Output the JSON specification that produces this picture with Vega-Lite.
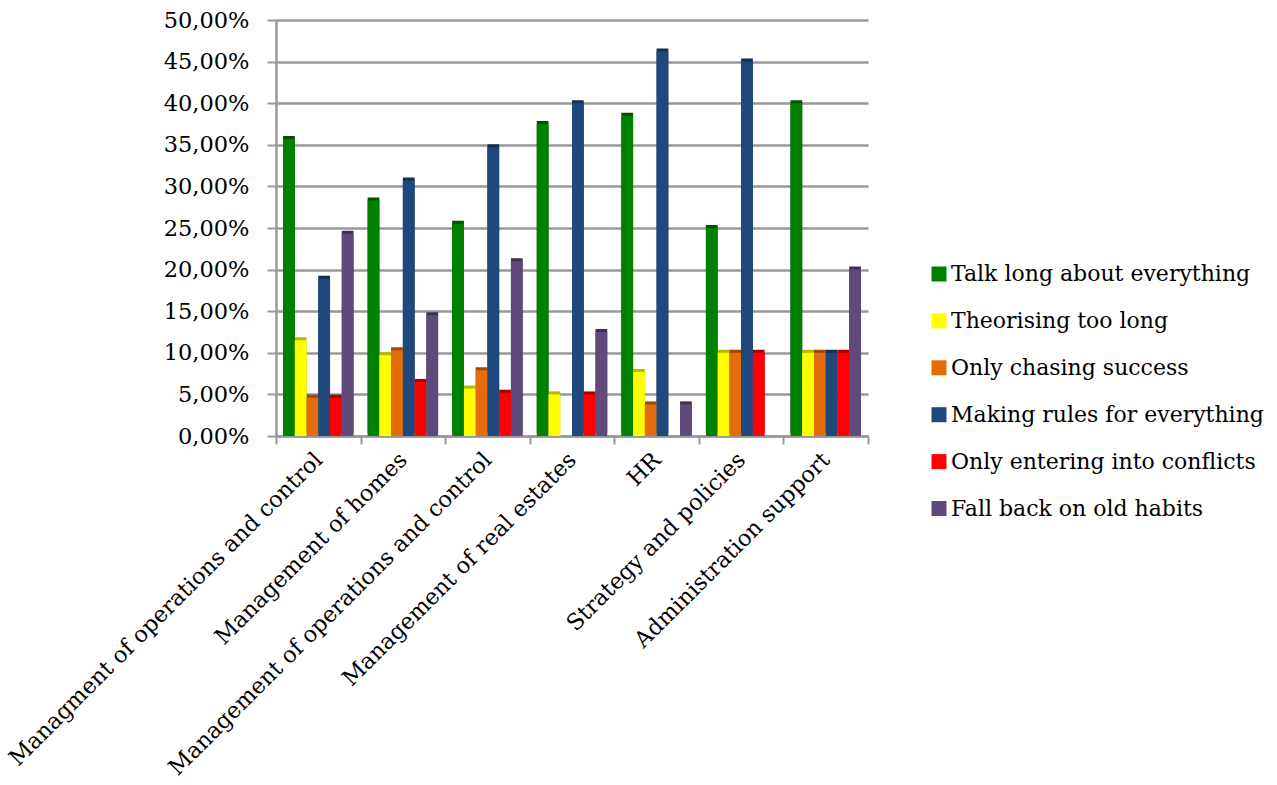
{
  "$schema": "https://vega.github.io/schema/vega-lite/v6.json",
  "width": 592,
  "height": 416,
  "autosize": {"type": "none"},
  "padding": {"left": 276, "top": 20, "right": 409, "bottom": 349},
  "background": "white",
  "data": {
    "values": [
      {"unit": "Managment of operations and control", "reaction": "Talk long about everything", "share": 0.357},
      {"unit": "Managment of operations and control", "reaction": "Theorising too long", "share": 0.115},
      {"unit": "Managment of operations and control", "reaction": "Only chasing success", "share": 0.046},
      {"unit": "Managment of operations and control", "reaction": "Making rules for everything", "share": 0.189},
      {"unit": "Managment of operations and control", "reaction": "Only entering into conflicts", "share": 0.046},
      {"unit": "Managment of operations and control", "reaction": "Fall back on old habits", "share": 0.243},
      {"unit": "Management of homes", "reaction": "Talk long about everything", "share": 0.283},
      {"unit": "Management of homes", "reaction": "Theorising too long", "share": 0.097},
      {"unit": "Management of homes", "reaction": "Only chasing success", "share": 0.103},
      {"unit": "Management of homes", "reaction": "Making rules for everything", "share": 0.307},
      {"unit": "Management of homes", "reaction": "Only entering into conflicts", "share": 0.065},
      {"unit": "Management of homes", "reaction": "Fall back on old habits", "share": 0.145},
      {"unit": "Management of operations and control", "reaction": "Talk long about everything", "share": 0.255},
      {"unit": "Management of operations and control", "reaction": "Theorising too long", "share": 0.057},
      {"unit": "Management of operations and control", "reaction": "Only chasing success", "share": 0.079},
      {"unit": "Management of operations and control", "reaction": "Making rules for everything", "share": 0.347},
      {"unit": "Management of operations and control", "reaction": "Only entering into conflicts", "share": 0.052},
      {"unit": "Management of operations and control", "reaction": "Fall back on old habits", "share": 0.21},
      {"unit": "Management of real estates", "reaction": "Talk long about everything", "share": 0.375},
      {"unit": "Management of real estates", "reaction": "Theorising too long", "share": 0.05},
      {"unit": "Management of real estates", "reaction": "Only chasing success", "share": 0.0},
      {"unit": "Management of real estates", "reaction": "Making rules for everything", "share": 0.4},
      {"unit": "Management of real estates", "reaction": "Only entering into conflicts", "share": 0.05},
      {"unit": "Management of real estates", "reaction": "Fall back on old habits", "share": 0.125},
      {"unit": "HR", "reaction": "Talk long about everything", "share": 0.385},
      {"unit": "HR", "reaction": "Theorising too long", "share": 0.077},
      {"unit": "HR", "reaction": "Only chasing success", "share": 0.038},
      {"unit": "HR", "reaction": "Making rules for everything", "share": 0.462},
      {"unit": "HR", "reaction": "Only entering into conflicts", "share": 0.0},
      {"unit": "HR", "reaction": "Fall back on old habits", "share": 0.038},
      {"unit": "Strategy and policies", "reaction": "Talk long about everything", "share": 0.25},
      {"unit": "Strategy and policies", "reaction": "Theorising too long", "share": 0.1},
      {"unit": "Strategy and policies", "reaction": "Only chasing success", "share": 0.1},
      {"unit": "Strategy and policies", "reaction": "Making rules for everything", "share": 0.45},
      {"unit": "Strategy and policies", "reaction": "Only entering into conflicts", "share": 0.1},
      {"unit": "Strategy and policies", "reaction": "Fall back on old habits", "share": 0.0},
      {"unit": "Administration support", "reaction": "Talk long about everything", "share": 0.4},
      {"unit": "Administration support", "reaction": "Theorising too long", "share": 0.1},
      {"unit": "Administration support", "reaction": "Only chasing success", "share": 0.1},
      {"unit": "Administration support", "reaction": "Making rules for everything", "share": 0.1},
      {"unit": "Administration support", "reaction": "Only entering into conflicts", "share": 0.1},
      {"unit": "Administration support", "reaction": "Fall back on old habits", "share": 0.2}
    ]
  },
  "encoding": {
    "x": {
      "field": "unit",
      "type": "nominal",
      "sort": null,
      "title": null,
      "scale": {"paddingInner": 0, "paddingOuter": 0},
      "axis": {
        "labelAngle": -45,
        "labelAlign": "right",
        "labelBaseline": "middle",
        "labelPadding": 12,
        "labelFont": "DejaVu Serif",
        "labelFontSize": 22.5,
        "labelColor": "black",
        "labelLimit": 600,
        "domainColor": "#999999",
        "domainWidth": 2.5,
        "tickColor": "#999999",
        "tickWidth": 2,
        "tickSize": 8,
        "tickBand": "extent",
        "grid": false
      }
    },
    "xOffset": {
      "field": "reaction",
      "type": "nominal",
      "sort": ["Talk long about everything", "Theorising too long", "Only chasing success", "Making rules for everything", "Only entering into conflicts", "Fall back on old habits"],
      "scale": {"paddingInner": 0, "paddingOuter": 0.6}
    },
    "y": {
      "field": "share",
      "type": "quantitative",
      "title": null,
      "scale": {"domain": [0, 0.5], "nice": false},
      "axis": {
        "values": [0, 0.05, 0.1, 0.15, 0.2, 0.25, 0.3, 0.35, 0.4, 0.45, 0.5],
        "labelExpr": "replace(format(datum.value, '.2%'), '.', ',')",
        "labelFont": "DejaVu Serif",
        "labelFontSize": 22.5,
        "labelColor": "black",
        "labelPadding": 18,
        "domainColor": "#999999",
        "domainWidth": 2.5,
        "tickColor": "#999999",
        "tickWidth": 2,
        "tickSize": 9,
        "gridColor": "#999999",
        "gridWidth": 2.5
      }
    }
  },
  "layer": [
    {
      "mark": {"type": "bar", "xOffset": 3, "yOffset": -3},
      "encoding": {
        "color": {
          "field": "reaction",
          "type": "nominal",
          "legend": null,
          "scale": {
            "domain": ["Talk long about everything", "Theorising too long", "Only chasing success", "Making rules for everything", "Only entering into conflicts", "Fall back on old habits"],
            "range": ["#005200", "#b8b800", "#9c4a07", "#142f52", "#a80000", "#3e3052"]
          }
        }
      }
    },
    {
      "mark": {"type": "bar"},
      "encoding": {
        "color": {
          "field": "reaction",
          "type": "nominal",
          "title": null,
          "scale": {
            "domain": ["Talk long about everything", "Theorising too long", "Only chasing success", "Making rules for everything", "Only entering into conflicts", "Fall back on old habits"],
            "range": ["#008000", "#ffff00", "#e46c0a", "#1f497d", "#ff0000", "#604a7b"]
          },
          "legend": {
            "orient": "none",
            "legendX": 652,
            "legendY": 243,
            "padding": 0,
            "symbolType": "square",
            "symbolSize": 225,
            "symbolStrokeWidth": 0,
            "symbolOpacity": 1,
            "labelFont": "DejaVu Serif",
            "labelFontSize": 22,
            "labelColor": "black",
            "labelOffset": 1,
            "labelLimit": 400,
            "rowPadding": 24.9
          }
        }
      }
    }
  ],
  "resolve": {"scale": {"color": "independent"}},
  "config": {
    "view": {"stroke": null},
    "axis": {"labelFontWeight": "normal"}
  }
}
